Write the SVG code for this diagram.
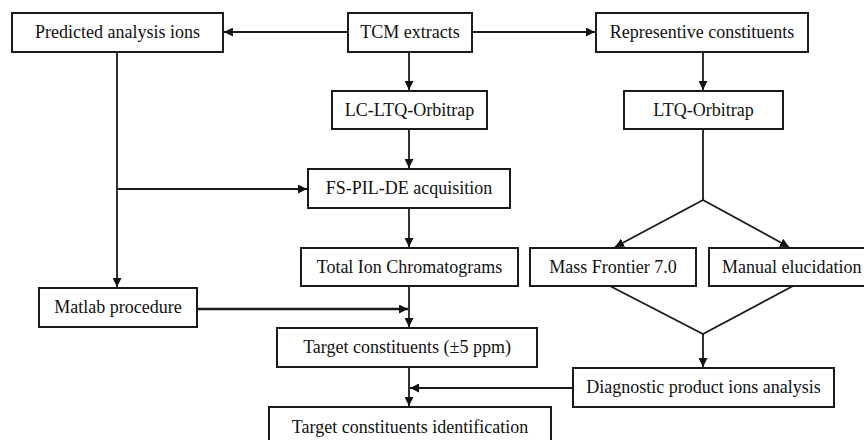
<svg xmlns="http://www.w3.org/2000/svg" width="864" height="440" viewBox="0 0 864 440">
<style>
rect.box{fill:#fff;stroke:#1a1a1a;stroke-width:2}
text{font-family:'Liberation Serif','DejaVu Serif',serif;font-size:18px;fill:#111;text-anchor:middle}
.c line,.c polyline{stroke:#1a1a1a;stroke-width:1.8;fill:none}
</style>
<defs>
<marker id="ah" viewBox="0 0 10 10" refX="10" refY="5" markerWidth="9" markerHeight="9" markerUnits="userSpaceOnUse" orient="auto">
<path d="M0,0 L10,5 L0,10 z" fill="#111"/>
</marker>
</defs>
<rect width="864" height="440" fill="#fff"/>
<g class="c" id="connectors">
<line x1="348" y1="32" x2="224" y2="32" marker-end="url(#ah)"/>
<line x1="472" y1="32" x2="595" y2="32" marker-end="url(#ah)"/>
<line x1="409" y1="52" x2="409" y2="90" marker-end="url(#ah)"/>
<line x1="703" y1="52" x2="703" y2="90" marker-end="url(#ah)"/>
<line x1="117" y1="52" x2="117" y2="287" marker-end="url(#ah)"/>
<line x1="117" y1="189" x2="307" y2="189" marker-end="url(#ah)"/>
<line x1="409" y1="129" x2="409" y2="168" marker-end="url(#ah)"/>
<line x1="409" y1="208" x2="409" y2="247" marker-end="url(#ah)"/>
<line x1="703" y1="129" x2="703" y2="200"/>
<line x1="703" y1="200" x2="615" y2="247" marker-end="url(#ah)"/>
<line x1="703" y1="200" x2="789" y2="247" marker-end="url(#ah)"/>
<polyline points="610,286 703,334 793,286"/>
<line x1="703" y1="334" x2="703" y2="367" marker-end="url(#ah)"/>
<line x1="573" y1="388" x2="410" y2="388" marker-end="url(#ah)"/>
<line x1="197" y1="309" x2="408" y2="309" marker-end="url(#ah)" style="stroke-width:2.4"/>
<line x1="409" y1="286" x2="409" y2="327" marker-end="url(#ah)"/>
<line x1="409" y1="367" x2="409" y2="406" marker-end="url(#ah)"/>
</g>
<g id="predicted"><rect class="box" x="12" y="13" width="211" height="39"/><text x="117.5" y="38" font-family="Liberation Serif">Predicted analysis ions</text></g>
<g id="tcm"><rect class="box" x="348" y="13" width="124" height="39"/><text x="410" y="38">TCM extracts</text></g>
<g id="representive"><rect class="box" x="596" y="13" width="212" height="39"/><text x="702" y="38">Representive constituents</text></g>
<g id="lc"><rect class="box" x="332" y="91" width="155" height="38"/><text x="409.5" y="116">LC-LTQ-Orbitrap</text></g>
<g id="ltq"><rect class="box" x="624" y="91" width="159" height="38"/><text x="703.5" y="116">LTQ-Orbitrap</text></g>
<g id="fs"><rect class="box" x="308" y="169" width="202" height="39"/><text x="409" y="194">FS-PIL-DE acquisition</text></g>
<g id="tic"><rect class="box" x="301" y="248" width="217" height="38"/><text x="409.5" y="273">Total Ion Chromatograms</text></g>
<g id="massfrontier"><rect class="box" x="530" y="248" width="166" height="38"/><text x="613" y="273">Mass Frontier 7.0</text></g>
<g id="manual"><rect class="box" x="709" y="248" width="170" height="38"/><text x="722" y="273" style="text-anchor:start">Manual elucidation</text></g>
<g id="matlab"><rect class="box" x="39" y="288" width="158" height="39"/><text x="118" y="313">Matlab procedure</text></g>
<g id="target"><rect class="box" x="277" y="328" width="260" height="39"/><text x="407" y="353">Target constituents (±5 ppm)</text></g>
<g id="diagnostic"><rect class="box" x="573" y="368" width="261" height="39"/><text x="703.5" y="393">Diagnostic product ions analysis</text></g>
<g id="identification"><rect class="box" x="269" y="407" width="282" height="40"/><text x="410" y="433">Target constituents identification</text></g>
</svg>
